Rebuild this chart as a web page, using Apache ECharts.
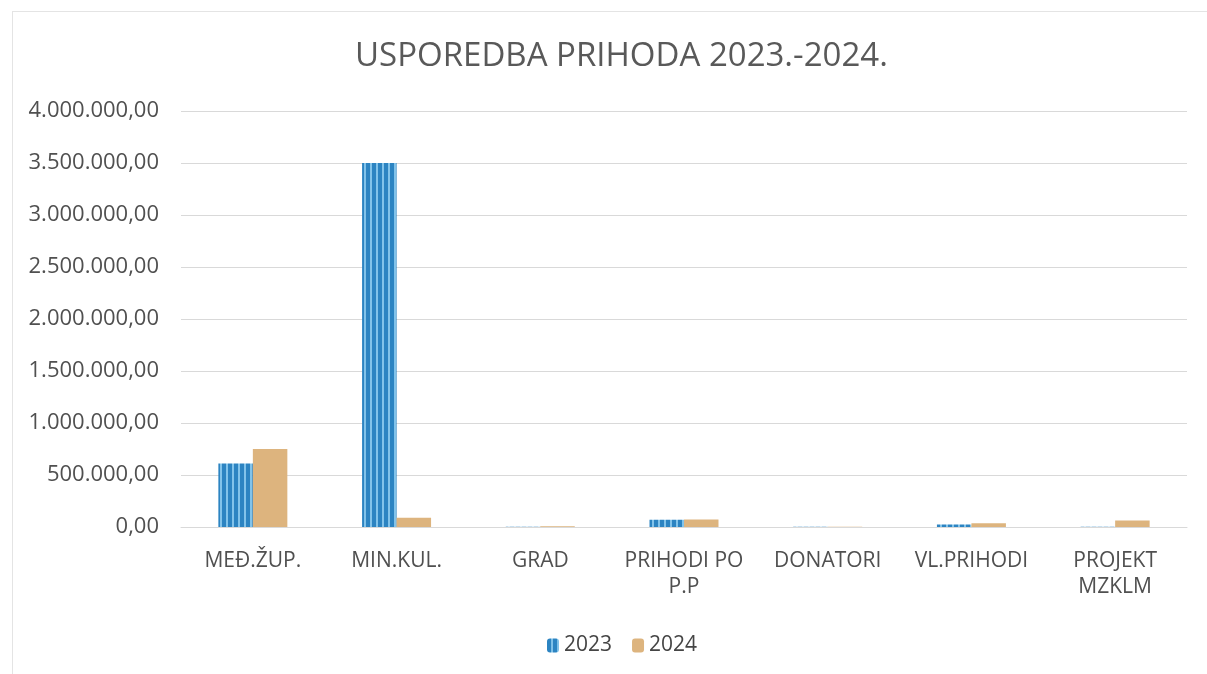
<!DOCTYPE html>
<html>
<head>
<meta charset="utf-8">
<script src="https://cdn.jsdelivr.net/npm/echarts@6/dist/echarts.min.js"></script>
<style>
html,body{margin:0;padding:0;background:#fff;}
#frame{position:absolute;left:12px;top:11px;width:1195px;height:663px;border-left:1px solid #e4e4e4;border-top:1px solid #e4e4e4;box-sizing:border-box;}
#c{position:absolute;left:0;top:0;width:1207px;height:674px;}
</style>
</head>
<body>
<div id="frame"></div>
<div id="c"></div>
<script>
const categories = ['MEĐ.ŽUP.', 'MIN.KUL.', 'GRAD', 'PRIHODI PO\nP.P', 'DONATORI', 'VL.PRIHODI', 'PROJEKT\nMZKLM'];
const values2023 = [610000, 3500000, 3000, 70000, 2000, 25000, 3000];
const values2024 = [750000, 88000, 8000, 72000, 3000, 35000, 62000];
const yTicks = { min: 0, max: 4000000, interval: 500000 };

function fmt(v){
  const s = Math.round(v).toString().replace(/\B(?=(\d{3})+(?!\d))/g, '.');
  return s + ',00';
}

const pc = document.createElement('canvas');
pc.width = 6; pc.height = 4;
const pctx = pc.getContext('2d');
pctx.fillStyle = '#2C84C2'; pctx.fillRect(0,0,6,4);
pctx.fillStyle = '#82C3EA'; pctx.fillRect(4,0,2,4);

const chart = echarts.init(document.getElementById('c'), null, {renderer:'canvas'});
chart.setOption({
  animation: false,
  title: {
    text: 'USPOREDBA PRIHODA 2023.-2024.',
    left: 350, top: 35,
    textStyle: { fontFamily: 'Open Sans', fontSize: 33, fontWeight: 'normal', color: '#595959' }
  },
  legend: {
    top: 630, left: 542,
    itemWidth: 12, itemHeight: 14, itemGap: 20,
    textStyle: { fontFamily: 'Open Sans', fontSize: 21, color: '#454545' },
    data: ['2023', '2024']
  },
  grid: { left: 181, right: 20, top: 111, bottom: 147 },
  xAxis: {
    type: 'category', data: categories,
    axisTick: { show: false },
    axisLine: { lineStyle: { color: '#d9d9d9' } },
    axisLabel: { fontFamily: 'Open Sans', fontSize: 21, color: '#505050', margin: 21, lineHeight: 26, interval: 0 }
  },
  yAxis: {
    type: 'value', min: yTicks.min, max: yTicks.max, interval: yTicks.interval,
    axisLabel: { formatter: fmt, fontFamily: 'Open Sans', fontSize: 22, color: '#505050', margin: 22 },
    splitLine: { lineStyle: { color: '#d9d9d9' } },
    axisLine: { show: false }, axisTick: { show: false }
  },
  series: [
    { name: '2023', type: 'bar', data: values2023, barWidth: '24%', barGap: '0%',
      itemStyle: { color: { image: pc, repeat: 'repeat' } } },
    { name: '2024', type: 'bar', data: values2024, barWidth: '24%', barGap: '0%',
      itemStyle: { color: '#DDB47E' } }
  ]
});
</script>
</body>
</html>
